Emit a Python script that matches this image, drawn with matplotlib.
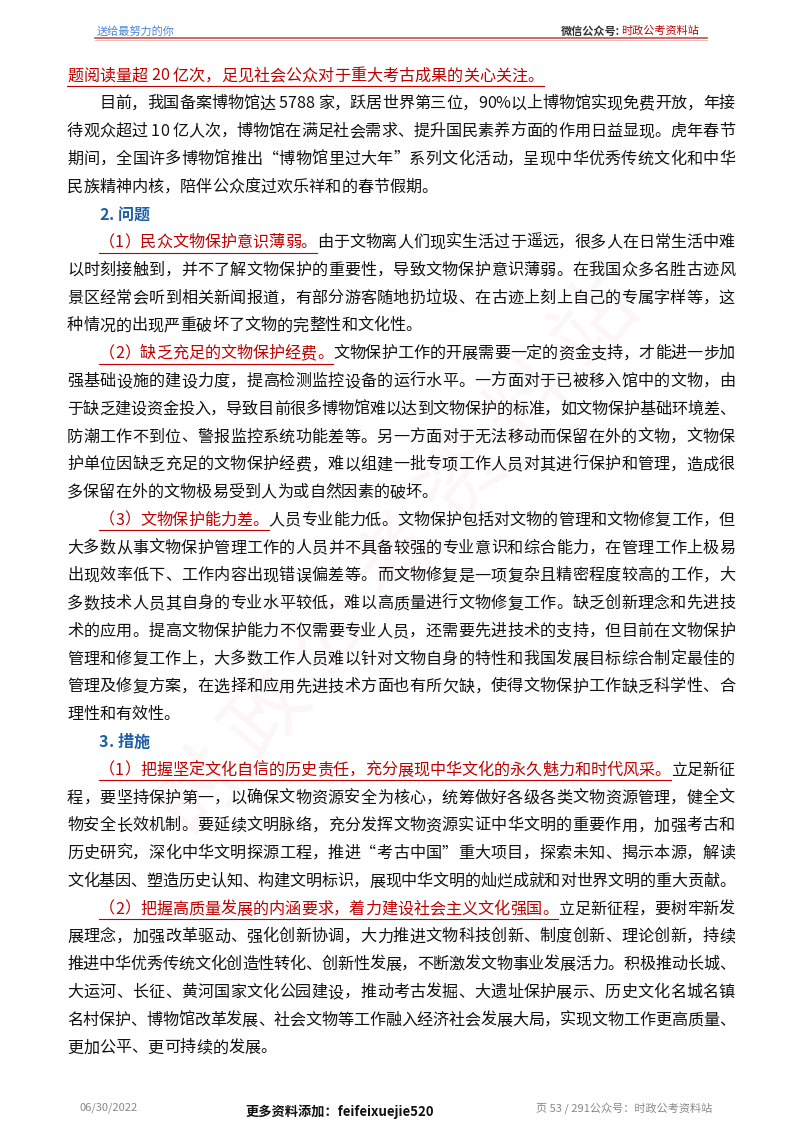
import matplotlib
matplotlib.use("Agg")
import matplotlib.pyplot as plt

plt.rcParams['font.family'] = ['Noto Sans CJK SC', 'DejaVu Sans']

RED = '#c00000'
BLUE = '#1f5fa8'
BLACK = '#111111'

# each line: (indent, justify, [(text, kind), ...]); kind: n=normal, r=red underlined, h=heading
lines = [
    (0, False, [("题阅读量超 20 亿次，足见社会公众对于重大考古成果的关心关注。", 'r')]),
    (1, True, [("目前，我国备案博物馆达 5788 家，跃居世界第三位，90%以上博物馆实现免费开放，年接", 'n')]),
    (0, True, [("待观众超过 10 亿人次，博物馆在满足社会需求、提升国民素养方面的作用日益显现。虎年春节", 'n')]),
    (0, True, [("期间，全国许多博物馆推出“博物馆里过大年”系列文化活动，呈现中华优秀传统文化和中华", 'n')]),
    (0, False, [("民族精神内核，陪伴公众度过欢乐祥和的春节假期。", 'n')]),
    (1, False, [("2. 问题", 'h')]),
    (1, True, [("（1）民众文物保护意识薄弱。", 'r'), ("由于文物离人们现实生活过于遥远，很多人在日常生活中难", 'n')]),
    (0, True, [("以时刻接触到，并不了解文物保护的重要性，导致文物保护意识薄弱。在我国众多名胜古迹风", 'n')]),
    (0, True, [("景区经常会听到相关新闻报道，有部分游客随地扔垃圾、在古迹上刻上自己的专属字样等，这", 'n')]),
    (0, False, [("种情况的出现严重破坏了文物的完整性和文化性。", 'n')]),
    (1, True, [("（2）缺乏充足的文物保护经费。", 'r'), ("文物保护工作的开展需要一定的资金支持，才能进一步加", 'n')]),
    (0, True, [("强基础设施的建设力度，提高检测监控设备的运行水平。一方面对于已被移入馆中的文物，由", 'n')]),
    (0, True, [("于缺乏建设资金投入，导致目前很多博物馆难以达到文物保护的标准，如文物保护基础环境差、", 'n')]),
    (0, True, [("防潮工作不到位、警报监控系统功能差等。另一方面对于无法移动而保留在外的文物，文物保", 'n')]),
    (0, True, [("护单位因缺乏充足的文物保护经费，难以组建一批专项工作人员对其进行保护和管理，造成很", 'n')]),
    (0, False, [("多保留在外的文物极易受到人为或自然因素的破坏。", 'n')]),
    (1, True, [("（3）文物保护能力差。", 'r'), ("人员专业能力低。文物保护包括对文物的管理和文物修复工作，但", 'n')]),
    (0, True, [("大多数从事文物保护管理工作的人员并不具备较强的专业意识和综合能力，在管理工作上极易", 'n')]),
    (0, True, [("出现效率低下、工作内容出现错误偏差等。而文物修复是一项复杂且精密程度较高的工作，大", 'n')]),
    (0, True, [("多数技术人员其自身的专业水平较低，难以高质量进行文物修复工作。缺乏创新理念和先进技", 'n')]),
    (0, True, [("术的应用。提高文物保护能力不仅需要专业人员，还需要先进技术的支持，但目前在文物保护", 'n')]),
    (0, True, [("管理和修复工作上，大多数工作人员难以针对文物自身的特性和我国发展目标综合制定最佳的", 'n')]),
    (0, True, [("管理及修复方案，在选择和应用先进技术方面也有所欠缺，使得文物保护工作缺乏科学性、合", 'n')]),
    (0, False, [("理性和有效性。", 'n')]),
    (1, False, [("3. 措施", 'h')]),
    (1, True, [("（1）把握坚定文化自信的历史责任，充分展现中华文化的永久魅力和时代风采。", 'r'), ("立足新征", 'n')]),
    (0, True, [("程，要坚持保护第一，以确保文物资源安全为核心，统筹做好各级各类文物资源管理，健全文", 'n')]),
    (0, True, [("物安全长效机制。要延续文明脉络，充分发挥文物资源实证中华文明的重要作用，加强考古和", 'n')]),
    (0, True, [("历史研究，深化中华文明探源工程，推进“考古中国”重大项目，探索未知、揭示本源，解读", 'n')]),
    (0, True, [("文化基因、塑造历史认知、构建文明标识，展现中华文明的灿烂成就和对世界文明的重大贡献。", 'n')]),
    (1, True, [("（2）把握高质量发展的内涵要求，着力建设社会主义文化强国。", 'r'), ("立足新征程，要树牢新发", 'n')]),
    (0, True, [("展理念，加强改革驱动、强化创新协调，大力推进文物科技创新、制度创新、理论创新，持续", 'n')]),
    (0, True, [("推进中华优秀传统文化创造性转化、创新性发展，不断激发文物事业发展活力。积极推动长城、", 'n')]),
    (0, True, [("大运河、长征、黄河国家文化公园建设，推动考古发掘、大遗址保护展示、历史文化名城名镇", 'n')]),
    (0, True, [("名村保护、博物馆改革发展、社会文物等工作融入经济社会发展大局，实现文物工作更高质量、", 'n')]),
    (0, False, [("更加公平、更可持续的发展。", 'n')]),
]

fig = plt.figure(figsize=(8, 11.32), dpi=100)
ax = fig.add_axes([0, 0, 1, 1])
ax.set_xlim(0, 800)
ax.set_ylim(1132, 0)
ax.axis('off')
renderer = fig.canvas.get_renderer()

FS = 11.6
LEFT, RIGHT, INDENT = 67, 735, 32
Y0, DY = 76, 27.77

# faint watermark
ax.text(400, 560, "时 政 公 考 资 料 站", fontsize=60, color=RED, alpha=0.04,
        rotation=50, ha='center', va='center')

for i, (ind, just, segs) in enumerate(lines):
    y = Y0 + DY * i
    chars = []
    for text, kind in segs:
        for c in text:
            chars.append((c, kind))
    widths = []
    for c, kind in chars:
        t = ax.text(0, 0, c, fontsize=FS, weight='bold' if kind == 'h' else 'normal')
        widths.append(t.get_window_extent(renderer).width)
        t.remove()
    x0 = LEFT + INDENT * ind
    extra = 0
    if just and len(chars) > 1:
        extra = (RIGHT - x0 - sum(widths)) / (len(chars) - 1)
    x = x0
    ustart = None
    for (c, kind), w in zip(chars, widths):
        color = {'n': BLACK, 'r': RED, 'h': BLUE}[kind]
        ax.text(x, y, c, fontsize=FS, color=color, va='center', ha='left',
                weight='bold' if kind == 'h' else 'normal')
        if kind == 'r' and ustart is None:
            ustart = x
        if kind != 'r' and ustart is not None:
            ax.plot([ustart, x - extra], [y + 10, y + 10], color=RED, lw=0.8)
            ustart = None
        x += w + extra
    if ustart is not None:
        ax.plot([ustart, x - extra], [y + 10, y + 10], color=RED, lw=0.8)

# header
ax.text(97, 31, "送给最努力的你", fontsize=8, color='#4a86d4', va='center')
ax.text(620, 31, "微信公众号:", fontsize=8, color='#333333', weight='bold', va='center', ha='right')
ax.text(621, 31, "时政公考资料站", fontsize=8, color=RED, va='center', ha='left')
ax.plot([95, 707], [38, 38], color='#c0504d', lw=1.2)
ax.plot([95, 707], [39.5, 39.5], color='#e8b0b0', lw=0.6)

# footer
ax.text(80, 1108, "06/30/2022", fontsize=8, color='#888888', va='center')
ax.text(340, 1112, "更多资料添加：feifeixuejie520", fontsize=9.5, color=BLACK,
        weight='bold', va='center', ha='center')
ax.text(712, 1108, "页 53 / 291公众号：时政公考资料站", fontsize=8, color='#888888',
        va='center', ha='right')

fig.savefig("out.png", dpi=100, facecolor='white')
